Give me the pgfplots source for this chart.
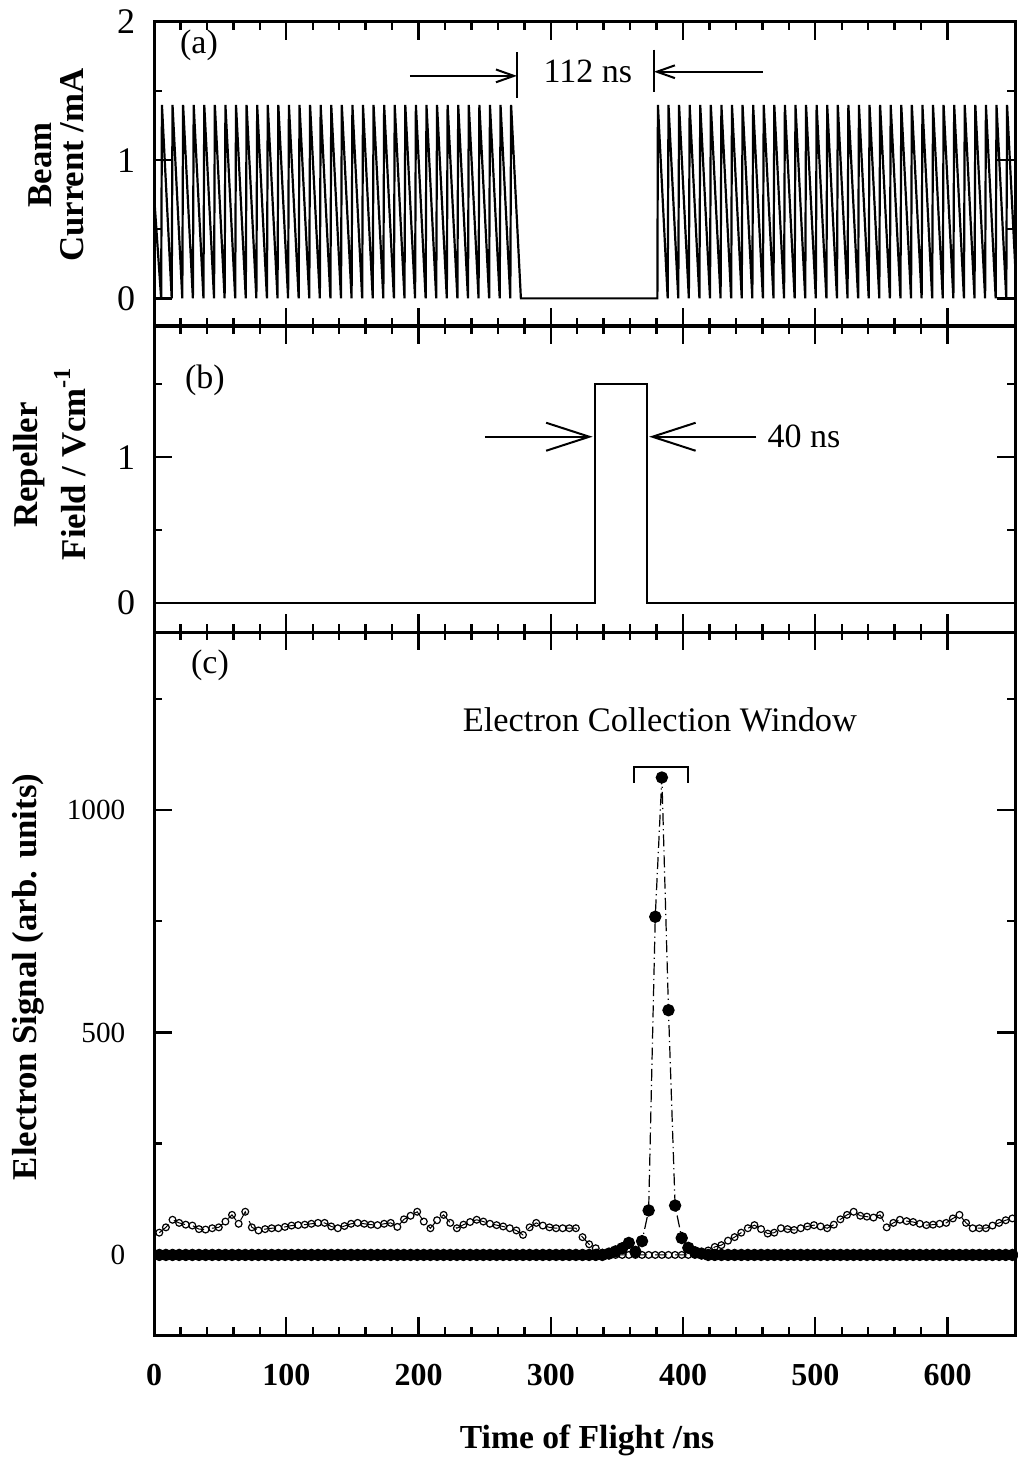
\documentclass[border=0pt]{standalone}
\usepackage{fontspec}
\setmainfont{Liberation Serif}
\usepackage{pgfplots}
\pgfplotsset{compat=1.18}
\usetikzlibrary{arrows.meta}
\pgfplotsset{
  panel/.style={
    scale only axis, width=215.25pt,
    xmin=0, xmax=651,
    axis line style={line width=0.75pt},
    every tick/.style={line width=0.6pt, black},
    major tick length=4.4pt, minor tick length=2.1pt,
    tick align=inside,
    xtick={0,100,...,600}, minor x tick num=4,
    /pgf/number format/assume math mode=true,
    clip=true,
  }
}
\begin{document}
\begin{tikzpicture}
% ---------------- panel (a)
\begin{axis}[panel, at={(38.5pt,-81.5pt)}, anchor=south west, height=76pt,
  ymin=-0.2, ymax=2, ytick={0,1,2}, minor ytick={0.5,1.5},
  xticklabels={},
  yticklabel style={font=\fontsize{9}{10}\selectfont, inner sep=0pt, xshift=-4.5pt}]
\addplot[black, line width=0.55pt, mark=none] coordinates {
(0,0.75) (5.4,0) (6,1.4) (13.4,0) (14,1.4) (21.4,0) (22,1.4) (29.4,0) (30,1.4) (37.4,0)
(38,1.4) (45.4,0) (46,1.4) (53.4,0) (54,1.4) (61.4,0) (62,1.4) (69.4,0) (70,1.4) (77.4,0)
(78,1.4) (85.4,0) (86,1.4) (93.4,0) (94,1.4) (101.4,0) (102,1.4) (109.4,0) (110,1.4) (117.4,0)
(118,1.4) (125.4,0) (126,1.4) (133.4,0) (134,1.4) (141.4,0) (142,1.4) (149.4,0) (150,1.4) (157.4,0)
(158,1.4) (165.4,0) (166,1.4) (173.4,0) (174,1.4) (181.4,0) (182,1.4) (189.4,0) (190,1.4) (197.4,0)
(198,1.4) (205.4,0) (206,1.4) (213.4,0) (214,1.4) (221.4,0) (222,1.4) (229.4,0) (230,1.4) (237.4,0)
(238,1.4) (245.4,0) (246,1.4) (253.4,0) (254,1.4) (261.4,0) (262,1.4) (269.4,0) (270,1.4) (277.4,0)
(380.6,0) (381,1.4) (388.4,0) (389,1.4) (396.4,0) (397,1.4) (404.4,0) (405,1.4) (412.4,0)
(413,1.4) (420.4,0) (421,1.4) (428.4,0) (429,1.4) (436.4,0) (437,1.4) (444.4,0) (445,1.4) (452.4,0)
(453,1.4) (460.4,0) (461,1.4) (468.4,0) (469,1.4) (476.4,0) (477,1.4) (484.4,0) (485,1.4) (492.4,0)
(493,1.4) (500.4,0) (501,1.4) (508.4,0) (509,1.4) (516.4,0) (517,1.4) (524.4,0) (525,1.4) (532.4,0)
(533,1.4) (540.4,0) (541,1.4) (548.4,0) (549,1.4) (556.4,0) (557,1.4) (564.4,0) (565,1.4) (572.4,0)
(573,1.4) (580.4,0) (581,1.4) (588.4,0) (589,1.4) (596.4,0) (597,1.4) (604.4,0) (605,1.4) (612.4,0)
(613,1.4) (620.4,0) (621,1.4) (628.4,0) (629,1.4) (636.4,0) (637,1.4) (644.4,0) (645,1.4) (652.4,0)
};
\node[font=\fontsize{8.5}{10}\selectfont, inner sep=0pt] at (axis cs:34,1.83) {(a)};
\node[font=\fontsize{8.5}{10}\selectfont, inner sep=0pt] at (axis cs:328,1.64) {112 ns};
\draw[line width=0.5pt, -{Straight Barb[length=4.5pt,width=3.2pt]}] (axis cs:193.5,1.61) -- (axis cs:274.4,1.61);
\draw[line width=0.5pt] (axis cs:274.4,1.78) -- (axis cs:274.4,1.45);
\draw[line width=0.5pt] (axis cs:378,1.80) -- (axis cs:378,1.49);
\draw[line width=0.5pt, -{Straight Barb[length=4.5pt,width=3.2pt]}] (axis cs:460.3,1.64) -- (axis cs:378,1.64);
\end{axis}
% ---------------- panel (b)
\begin{axis}[panel, at={(38.5pt,-158pt)}, anchor=south west, height=76.5pt,
  ymin=-0.2, ymax=1.9, ytick={0,1}, minor ytick={0.5,1.5},
  xticklabels={},
  yticklabel style={font=\fontsize{9}{10}\selectfont, inner sep=0pt, xshift=-4.5pt}]
\addplot[black, line width=0.6pt, mark=none] coordinates {
(0,0) (333.3,0) (333.3,1.5) (372.7,1.5) (372.7,0) (651,0)
};
\node[font=\fontsize{8.5}{10}\selectfont, inner sep=0pt] at (axis cs:38.5,1.53) {(b)};
\draw[line width=0.5pt, -{Straight Barb[length=10.8pt,width=7pt]}] (axis cs:250.2,1.14) -- (axis cs:331.6,1.14);
\draw[line width=0.5pt, -{Straight Barb[length=10.8pt,width=7pt]}] (axis cs:455.5,1.14) -- (axis cs:374.4,1.14);
\node[font=\fontsize{8.5}{10}\selectfont, inner sep=0pt, anchor=west] at (axis cs:463.3,1.14) {40 ns};
\end{axis}
% ---------------- panel (c)
\begin{axis}[panel, at={(38.5pt,-333.75pt)}, anchor=south west, height=175.75pt,
  ymin=-180, ymax=1400, ytick={0,500,1000}, yticklabels={0,500,1000},
  minor ytick={250,750,1250},
  xticklabels={0,100,200,300,400,500,600},
  xticklabel style={font=\fontsize{8}{9}\selectfont\bfseries, inner sep=0pt, yshift=-7pt},
  yticklabel style={font=\fontsize{7.3}{9}\selectfont, inner sep=0pt, xshift=-7pt}]
% open circles (background signal)
\addplot[black, line width=0.25pt, densely dashed, mark=o, mark size=0.85pt,
  mark options={solid, line width=0.3pt}] coordinates {
(4,50) (9,62) (14,79) (19,72) (24,68) (29,66) (34,58) (39,57) (44,60) (49,62)
(54,75) (59,90) (64,70) (69,97) (74,62) (79,55) (84,58) (89,60) (94,60) (99,63)
(104,66) (109,67) (114,68) (119,70) (124,72) (129,72) (134,64) (139,60) (144,65) (149,70)
(154,72) (159,70) (164,68) (169,67) (174,70) (179,72) (184,63) (189,80) (194,88) (199,97)
(204,75) (209,60) (214,78) (219,90) (224,72) (229,60) (234,68) (239,74) (244,79) (249,75)
(254,70) (259,67) (264,64) (269,60) (274,55) (279,45) (284,62) (289,72) (294,66) (299,62)
(304,60) (309,60) (314,60) (319,60) (324,40) (329,24) (334,15) (339,5) (344,0) (349,0)
(354,0) (359,0) (364,0) (369,0) (374,0) (379,0) (384,0) (389,0) (394,0) (399,0)
(404,0) (409,0) (414,4) (419,10) (424,18) (429,22) (434,32) (439,40) (444,50) (449,60)
(454,67) (459,58) (464,48) (469,50) (474,60) (479,58) (484,56) (489,60) (494,64) (499,67)
(504,64) (509,60) (514,68) (519,80) (524,90) (529,97) (534,88) (539,86) (544,84) (549,90)
(554,62) (559,72) (564,79) (569,76) (574,74) (579,70) (584,67) (589,68) (594,70) (599,72)
(604,82) (609,90) (614,72) (619,60) (624,60) (629,60) (634,66) (639,72) (644,78) (649,82)
};
% filled circles (signal)
\addplot[black, line width=0.3pt, densely dashdotted, mark=*, mark size=1.4pt,
  mark options={solid}] coordinates {
(4,0) (9,0) (14,0) (19,0) (24,0) (29,0) (34,0) (39,0) (44,0) (49,0)
(54,0) (59,0) (64,0) (69,0) (74,0) (79,0) (84,0) (89,0) (94,0) (99,0)
(104,0) (109,0) (114,0) (119,0) (124,0) (129,0) (134,0) (139,0) (144,0) (149,0)
(154,0) (159,0) (164,0) (169,0) (174,0) (179,0) (184,0) (189,0) (194,0) (199,0)
(204,0) (209,0) (214,0) (219,0) (224,0) (229,0) (234,0) (239,0) (244,0) (249,0)
(254,0) (259,0) (264,0) (269,0) (274,0) (279,0) (284,0) (289,0) (294,0) (299,0)
(304,0) (309,0) (314,0) (319,0) (324,0) (329,0) (334,0) (339,0) (344,3) (349,8)
(354,15) (359,27) (364,7) (369,31) (374,100) (379,760) (384,1073) (389,550) (394,111) (399,38)
(404,16) (409,6) (414,3) (419,0) (424,0) (429,0) (434,0) (439,0) (444,0) (449,0)
(454,0) (459,0) (464,0) (469,0) (474,0) (479,0) (484,0) (489,0) (494,0) (499,0)
(504,0) (509,0) (514,0) (519,0) (524,0) (529,0) (534,0) (539,0) (544,0) (549,0)
(554,0) (559,0) (564,0) (569,0) (574,0) (579,0) (584,0) (589,0) (594,0) (599,0)
(604,0) (609,0) (614,0) (619,0) (624,0) (629,0) (634,0) (639,0) (644,0) (649,0)
};
\node[font=\fontsize{8.5}{10}\selectfont, inner sep=0pt] at (axis cs:42.3,1326) {(c)};
\node[font=\fontsize{8.6}{10}\selectfont, inner sep=0pt] at (axis cs:382.5,1202) {Electron Collection Window};
\draw[line width=0.6pt] (axis cs:362.8,1061) -- (axis cs:362.8,1097) -- (axis cs:403.6,1097) -- (axis cs:403.6,1061);
\end{axis}
% ---------------- axis labels
\begin{scope}[every node/.style={inner sep=0pt, rotate=90, font=\fontsize{8.7}{10}\selectfont\bfseries}]
\node at (10pt,-41.25pt) {Beam};
\node at (18pt,-41.25pt) {Current /mA};
\node at (7.25pt,-116.25pt) {Repeller};
\node at (17.5pt,-115.75pt) {Field / Vcm\textsuperscript{-1}};
\node at (7pt,-244.25pt) {Electron Signal (arb. units)};
\end{scope}
\node[inner sep=0pt, font=\fontsize{8.4}{10}\selectfont\bfseries] at (146.75pt,-360pt) {Time of Flight /ns};
\pgfresetboundingbox
\useasboundingbox (0pt,0pt) rectangle (254.25pt,-366.5pt);
\end{tikzpicture}
\end{document}
